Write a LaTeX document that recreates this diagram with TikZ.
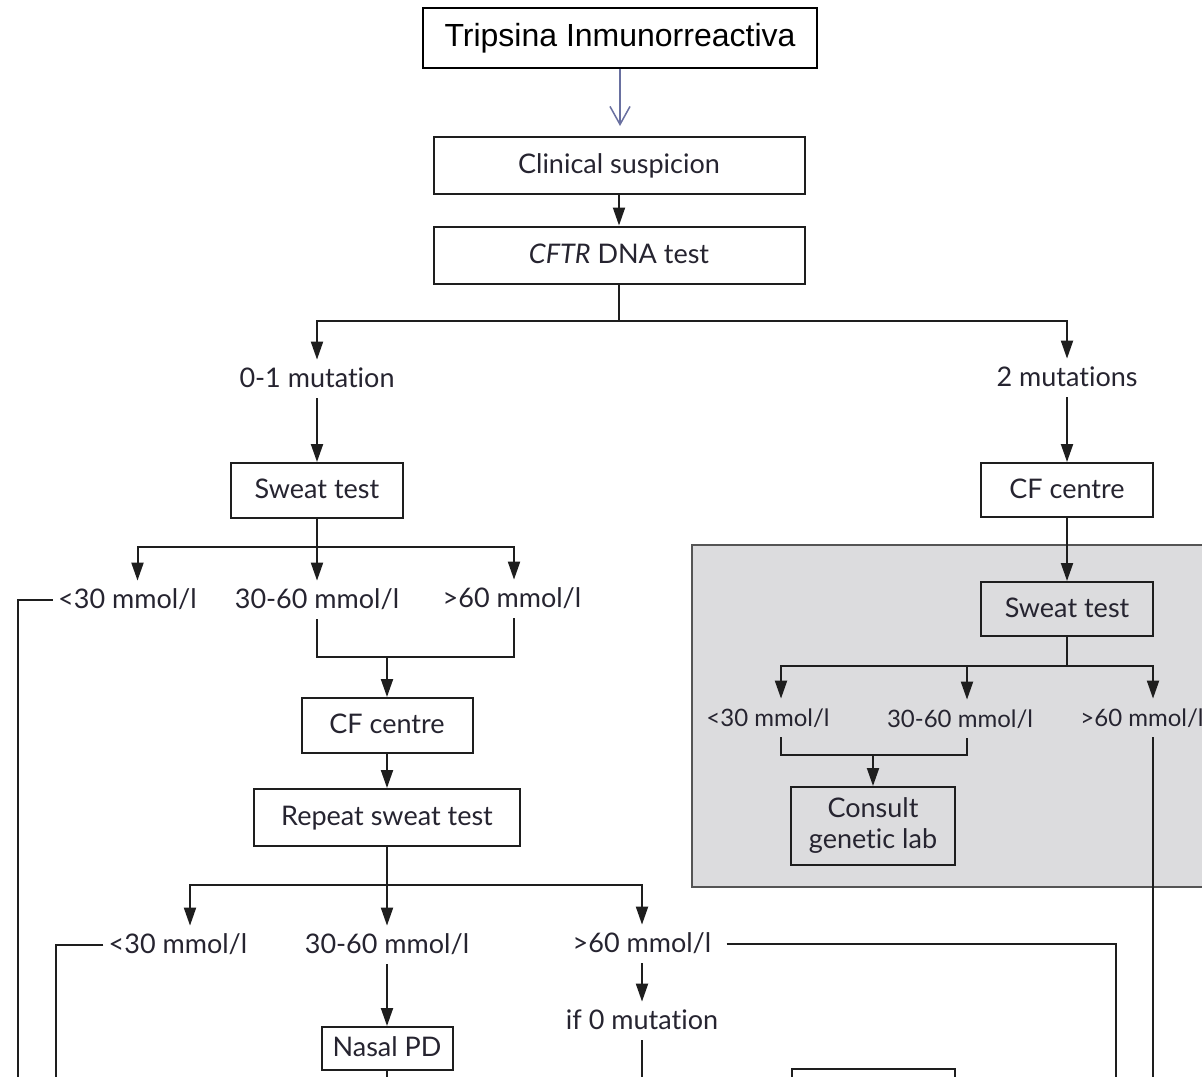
\documentclass[tikz,border=0pt]{standalone}
\usepackage{fontspec}
\newfontfamily\lato[Ligatures=NoCommon]{Lato}
\newfontfamily\arialf{Liberation Sans}
\usetikzlibrary{arrows.meta}
\definecolor{ink}{RGB}{38,36,48}
\definecolor{linec}{RGB}{30,30,30}
\definecolor{tirarrow}{RGB}{105,112,160}
\definecolor{grayfill}{RGB}{220,220,222}
\definecolor{grayedge}{RGB}{85,85,85}
\begin{document}
\begin{tikzpicture}[x=0.5pt,y=-0.5pt,
  conn/.style={draw=linec, line width=1pt},
  arr/.style={conn, -{Triangle[length=9pt,width=6pt]}},
  boxn/.style={draw=linec, line width=1pt, inner sep=0pt, font=\lato\fontsize{13.5}{16}\selectfont, text=ink, text height=11pt, text depth=3pt},
  lbl/.style={font=\lato\fontsize{13.5}{16}\selectfont, text=ink, inner sep=2.5pt, text height=11pt, text depth=3pt, anchor=base},
  glbl/.style={lbl, font=\lato\fontsize{12}{14}\selectfont},
]
\clip (0,0) rectangle (1202,1076);
\fill[white] (0,0) rectangle (1202,1076);

% grey panel
\draw[fill=grayfill, draw=grayedge, line width=1.2pt] (692,545) rectangle (1240,887);

% boxes
\node[draw=black, line width=1pt, inner sep=0pt, minimum width=197pt, minimum height=30pt, font=\arialf\fontsize{16}{19}\selectfont] (tir) at (620,38) {Tripsina Inmunorreactiva};
\node[boxn, minimum width=185.5pt, minimum height=28.5pt] (clin) at (619,165.5) {Clinical suspicion};
\node[boxn, minimum width=185.5pt, minimum height=28.5pt] (cftr) at (619,255) {\textit{CFTR} DNA test};
\node[boxn, minimum width=86pt, minimum height=27.5pt] (sw1) at (317,490.5) {Sweat test};
\node[boxn, minimum width=85.5pt, minimum height=27.5pt] (cf1) at (387,725.5) {CF centre};
\node[boxn, minimum width=133pt, minimum height=28.5pt] (rep) at (387,817.5) {Repeat sweat test};
\node[boxn, minimum width=65.5pt, minimum height=21.5pt] (nasal) at (387,1048.5) {Nasal PD};
\node[boxn, minimum width=86pt, minimum height=27pt] (cf2) at (1067,490) {CF centre};
\node[boxn, minimum width=86pt, minimum height=27pt] (sw2) at (1067,609) {Sweat test};
\node[draw=linec, line width=1pt, inner sep=0pt, minimum width=82pt, minimum height=39pt, align=center, font=\lato\fontsize{13.5}{15.5}\selectfont, text=ink] (consult) at (873,826) {Consult\\genetic lab};

% labels
\node[lbl] (mut01) at (317,387) {0-1 mutation};
\node[lbl] (mut2) at (1067,386) {2 mutations};
\node[lbl] (l30a) at (127.5,608) {<30 mmol/l};
\node[lbl] (m3060a) at (317,608) {30-60 mmol/l};
\node[lbl] (g60a) at (512,607) {>60 mmol/l};
\node[lbl] (l30b) at (178,953) {<30 mmol/l};
\node[lbl] (m3060b) at (387,953) {30-60 mmol/l};
\node[lbl] (g60b) at (642,952) {>60 mmol/l};
\node[lbl] (if0) at (642,1029) {if 0 mutation};
\node[glbl] (l30c) at (768,726) {<30 mmol/l};
\node[glbl] (m3060c) at (960,727) {30-60 mmol/l};
\node[glbl] (g60c) at (1142,726) {>60 mmol/l};

% junctions
\coordinate (j1) at (619,321);
\coordinate (j2) at (317,547);
\coordinate (mj1) at (387,657);
\coordinate (j3) at (387,885);
\coordinate (j4) at (1067,666);
\coordinate (mj2) at (873,755);
\coordinate (b1) at (18,1090);
\coordinate (b2) at (56,1090);
\coordinate (b3) at (387,1090);
\coordinate (b4) at (642,1090);
\coordinate (b5) at (1116,1090);
\coordinate (b6) at (1153,1090);

% connectors
\draw[tirarrow, line width=0.75pt, -{Straight Barb[length=9pt,width=10pt]}, shorten >=5pt] (tir.south) -- (tir.south |- clin.north);
\draw[arr] (clin) -- (cftr);
\draw[conn] (cftr.south) -- (j1);
\draw[arr] (j1) -| (mut01.north);
\draw[arr] (j1) -| (mut2.north);
\draw[arr] (mut01.south) -- (sw1.north);
\draw[arr] (mut2.south) -- (cf2.north);

\draw[conn] (sw1.south) -- (j2);
\draw[arr] (j2) -| ([xshift=5pt]l30a.north);
\draw[arr] (j2) -- (m3060a.north);
\draw[arr] (j2) -| ([xshift=1pt]g60a.north);
\draw[conn] (l30a.west) -| (b1);
\draw[conn] (m3060a.south) |- (mj1) -| ([xshift=1pt]g60a.south);
\draw[arr] (mj1) -- (cf1.north);
\draw[arr] (cf1) -- (rep);

\draw[conn] (rep.south) -- (j3);
\draw[arr] (j3) -| ([xshift=6pt]l30b.north);
\draw[arr] (j3) -- (m3060b.north);
\draw[arr] (j3) -| (g60b.north);
\draw[conn] (l30b.west) -| (b2);
\draw[arr] (m3060b.south) -- (nasal.north);
\draw[conn] (nasal.south) -- (b3);
\draw[arr] (g60b.south) -- (if0.north);
\draw[conn] (if0.south) -- (b4);
\draw[conn, shorten <=5pt] (g60b.east) -| (b5);

\draw[arr] (cf2) -- (sw2);
\draw[conn] (sw2.south) -- (j4);
\draw[arr] (j4) -| ([xshift=6.5pt]l30c.north);
\draw[arr] (j4) -| ([xshift=3.5pt]m3060c.north);
\draw[arr] (j4) -| ([xshift=5.5pt]g60c.north);
\draw[conn] ([xshift=6.5pt]l30c.south) |- (mj2) -| ([xshift=3.5pt]m3060c.south);
\draw[arr] (mj2) -- (consult.north);
\draw[conn] ([xshift=5.5pt]g60c.south) -- (b6);

% partially visible box at the bottom edge
\draw[conn] (792,1069) rectangle (955,1120);
\end{tikzpicture}
\end{document}
